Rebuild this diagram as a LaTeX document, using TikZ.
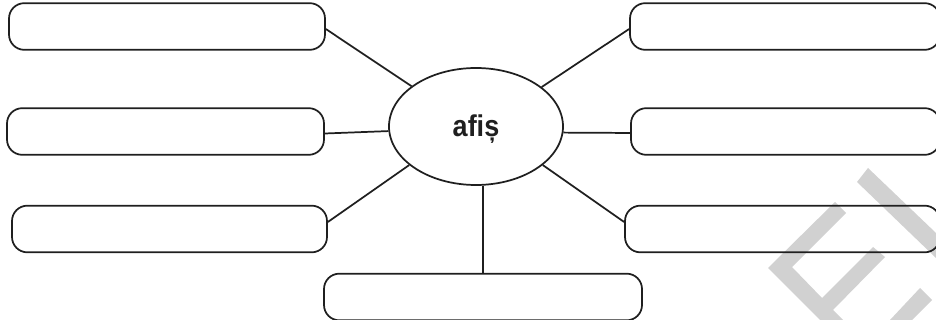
\documentclass[tikz,border=0pt]{standalone}
\usepackage{fontspec}
\setmainfont{Liberation Sans}
\usetikzlibrary{shapes.geometric}
\tikzset{
  x=0.75pt,y=-0.75pt,
  ink/.style={line width=1.3pt,draw=black!88},
  field/.style={ink,fill=none,rounded corners=11.5pt,inner sep=0pt,minimum height=35pt},
  hub/.style={ink,fill=white,ellipse,inner sep=0pt,minimum width=130.5pt,minimum height=87.75pt},
  link/.style={ink},
  stamp/.style={fill=black!18,draw=none}
}
\begin{document}
\begin{tikzpicture}
\useasboundingbox (0,0) rectangle (936,320);
\begin{scope}
\clip (0,0) rectangle (936,320);
% watermark
\fill[stamp] (868,168) -- (857,182) -- (936,258) -- (936,233) -- cycle;
\fill[stamp] (835,202) -- (846,213) -- (792,267) -- (822,298) -- (873,247) -- (885,257) -- (833,310) -- (843,320) -- (820,320) -- (768,268) -- cycle;
\fill[stamp] (920,288) -- (932,300) -- (912,320) -- (890,320) -- cycle;
\end{scope}
\node[hub] (e) at (476,126.5) {};
\node[text=black!88,font=\bfseries\fontsize{22.5}{26}\selectfont,xscale=0.9] (t) at (476,129.5) {afiș};
\node[field,minimum width=237pt] (L1) at (167,26.5) {};
\node[field,minimum width=237.75pt] (L2) at (165.5,131.5) {};
\node[field,minimum width=236.25pt] (L3) at (169.5,229) {};
\node[field,minimum width=238.5pt] (B) at (483,297) {};
\node[field,minimum width=232.5pt] (R1) at (785,26.5) {};
\node[field,minimum width=231.75pt] (R2) at (785.5,131.5) {};
\node[field,minimum width=236.25pt] (R3) at (782.5,229) {};
\draw[link] ([yshift=-1.9pt]L1.east) -- (e.148.3);
\draw[link] ([yshift=-1.5pt]L2.east) -- (e.183.6);
\draw[link] ([yshift=5.25pt]L3.east) -- (e.210.8);
\draw[link] ([yshift=-1.9pt]R1.west) -- (e.31.3);
\draw[link] ([yshift=-1.1pt]R2.west) -- (e.356.6);
\draw[link] ([yshift=5.25pt]R3.west) -- (e.330.4);
\draw[link] (B.north) -- (B.north |- e.-83);
\end{tikzpicture}
\end{document}
